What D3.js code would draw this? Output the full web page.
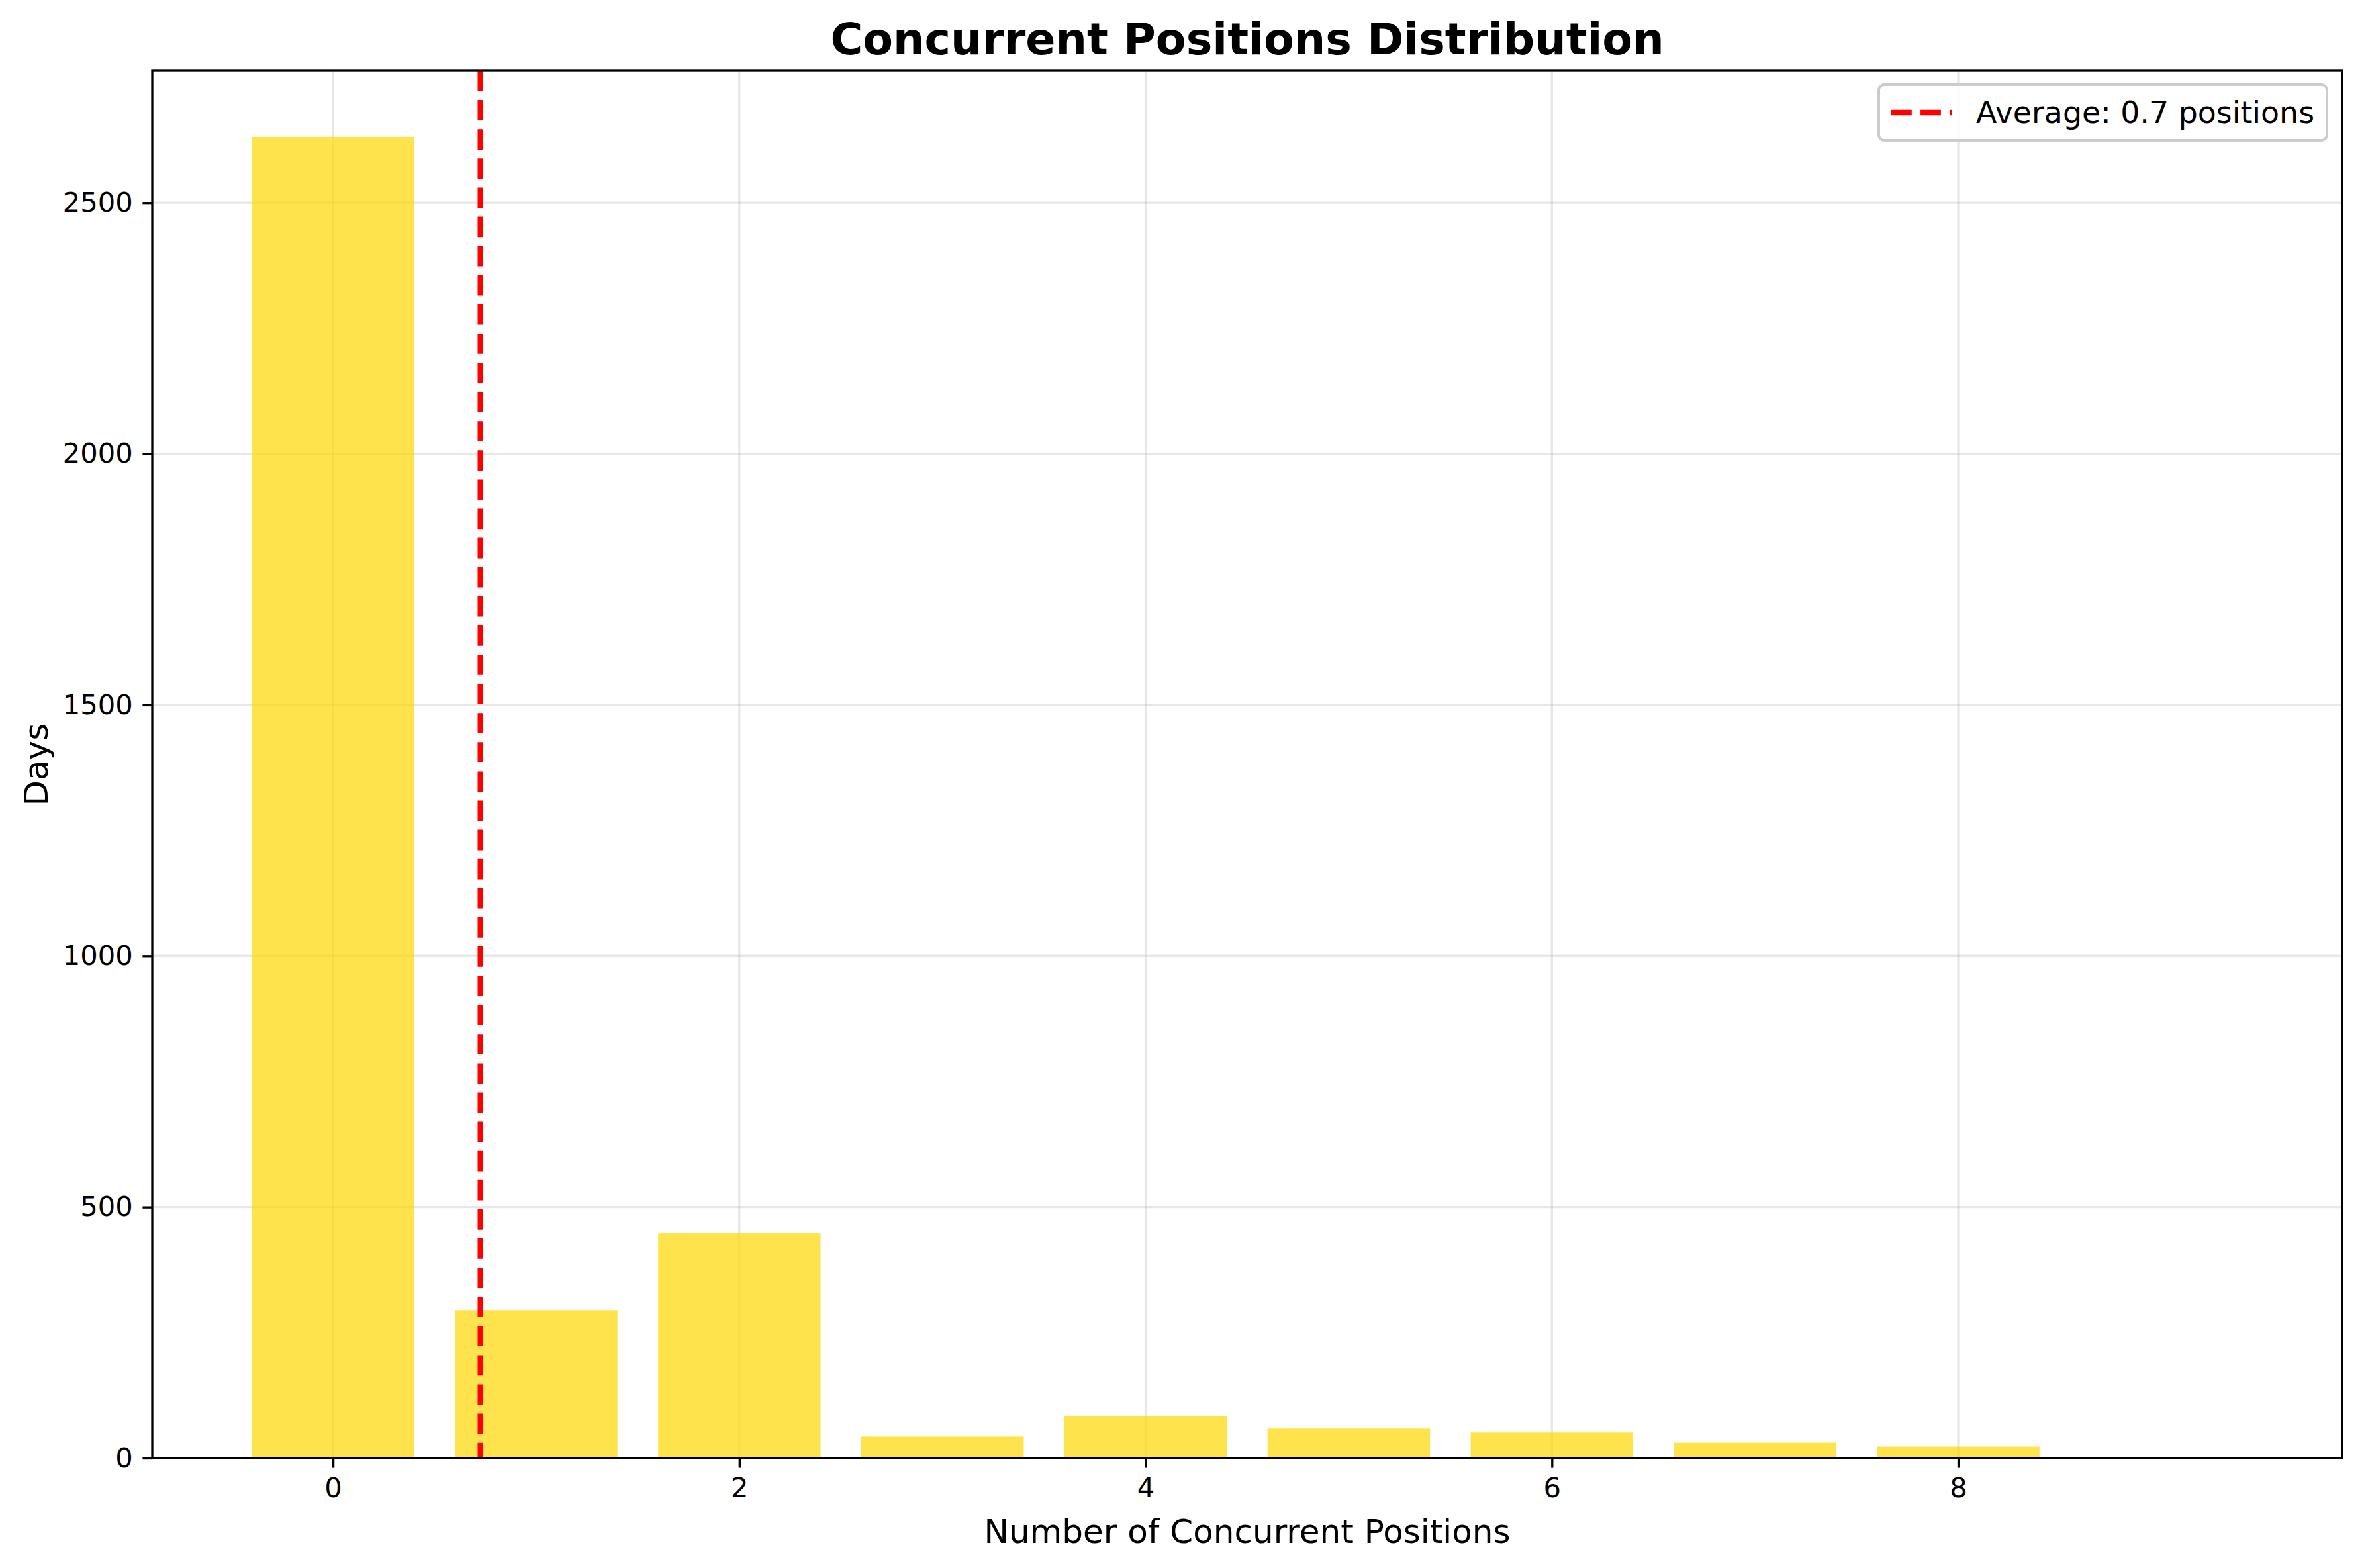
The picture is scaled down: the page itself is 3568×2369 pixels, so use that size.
<!DOCTYPE html>
<html>
<head>
<meta charset="utf-8">
<script src="https://cdn.jsdelivr.net/npm/d3@7/dist/d3.min.js"></script>
<style>
html,body{margin:0;padding:0;background:#fff;}
svg{display:block;font-family:"DejaVu Sans",sans-serif;}
</style>
</head>
<body>
<svg id="chart" width="3568" height="2369"></svg>
<script>
// ---- data ----
const positions = [0, 1, 2, 3, 4, 5, 6, 7, 8, 9];
const days = [2631, 295, 448, 43, 84, 59, 51, 31, 23, 0];
const xTicks = [0, 2, 4, 6, 8];
const yTicks = [0, 500, 1000, 1500, 2000, 2500];
const titleText = "Concurrent Positions Distribution";
const xLabel = "Number of Concurrent Positions";
const yLabel = "Days";

// ---- layout ----
const W = 3568, H = 2369;
const m = {left: 230, right: 3538, top: 107, bottom: 2203};
const svg = d3.select("#chart");

const barW = 0.8;
const xmin = d3.min(positions) - barW / 2, xmax = d3.max(positions) + barW / 2;
const xpad = (xmax - xmin) * 0.05;
const x = d3.scaleLinear().domain([xmin - xpad, xmax + xpad]).range([m.left, m.right]);
const y = d3.scaleLinear().domain([0, d3.max(days) * 1.05]).range([m.bottom, m.top]);

const total = d3.sum(days);
const mean = d3.sum(positions.map((p, i) => p * days[i])) / total;

// grid
const grid = svg.append("g");
grid.selectAll("line.gx").data(xTicks).enter().append("line")
  .attr("x1", d => x(d)).attr("x2", d => x(d))
  .attr("y1", m.top).attr("y2", m.bottom)
  .attr("stroke", "#b0b0b0").attr("stroke-opacity", 0.3).attr("stroke-width", 3.33);
grid.selectAll("line.gy").data(yTicks).enter().append("line")
  .attr("x1", m.left).attr("x2", m.right)
  .attr("y1", d => y(d)).attr("y2", d => y(d))
  .attr("stroke", "#b0b0b0").attr("stroke-opacity", 0.3).attr("stroke-width", 3.33);

// bars
svg.append("g").selectAll("rect").data(positions).enter().append("rect")
  .attr("x", d => x(d - barW / 2))
  .attr("width", d => x(d + barW / 2) - x(d - barW / 2))
  .attr("y", (d, i) => y(days[i]))
  .attr("height", (d, i) => y(0) - y(days[i]))
  .attr("fill", "#FFD700").attr("fill-opacity", 0.7);

// mean line
svg.append("line")
  .attr("x1", x(mean)).attr("x2", x(mean))
  .attr("y1", m.top).attr("y2", m.bottom)
  .attr("stroke", "#ff0000").attr("stroke-width", 8.33)
  .attr("stroke-dasharray", "30.8,13.3");

// axes
const xAxis = d3.axisBottom(x).tickValues(xTicks).tickFormat(d3.format("d"))
  .tickSize(14.6).tickPadding(14.6);
const gx = svg.append("g").attr("transform", `translate(0,${m.bottom})`).call(xAxis);
const yAxis = d3.axisLeft(y).tickValues(yTicks).tickFormat(d3.format("d"))
  .tickSize(14.6).tickPadding(14.6);
const gy = svg.append("g").attr("transform", `translate(${m.left},0)`).call(yAxis);
[gx, gy].forEach(g => {
  g.select(".domain").remove();
  g.selectAll(".tick line").attr("stroke", "#000").attr("stroke-width", 3.33);
  g.selectAll(".tick text").attr("fill", "#000")
    .style("font-family", "'DejaVu Sans', sans-serif").style("font-size", "41.67px");
});

// spines
svg.append("rect")
  .attr("x", m.left).attr("y", m.top)
  .attr("width", m.right - m.left).attr("height", m.bottom - m.top)
  .attr("fill", "none").attr("stroke", "#000").attr("stroke-width", 3.33);

// labels
svg.append("text").attr("x", (m.left + m.right) / 2).attr("y", 82)
  .attr("text-anchor", "middle").style("font-size", "66.67px").style("font-weight", "bold")
  .text(titleText);
svg.append("text").attr("x", (m.left + m.right) / 2).attr("y", 2331)
  .attr("text-anchor", "middle").style("font-size", "50px")
  .text(xLabel);
svg.append("text")
  .attr("transform", `translate(72,${(m.top + m.bottom) / 2}) rotate(-90)`)
  .attr("text-anchor", "middle").style("font-size", "50px")
  .text(yLabel);

// legend
const lg = svg.append("g");
const lx = 2838, ly = 128, lw = 677, lh = 84;
lg.append("rect").attr("x", lx).attr("y", ly).attr("width", lw).attr("height", lh)
  .attr("rx", 8).attr("ry", 8)
  .attr("fill", "#fff").attr("fill-opacity", 0.8)
  .attr("stroke", "#cccccc").attr("stroke-width", 4);
lg.append("line").attr("x1", lx + 19).attr("x2", lx + 111)
  .attr("y1", ly + lh / 2).attr("y2", ly + lh / 2)
  .attr("stroke", "#ff0000").attr("stroke-width", 8.33)
  .attr("stroke-dasharray", "30.8,13.3");
lg.append("text").attr("x", lx + 147).attr("y", ly + lh / 2)
  .attr("dominant-baseline", "central").style("font-size", "45.83px")
  .text(`Average: ${mean.toFixed(1)} positions`);
</script>
</body>
</html>
